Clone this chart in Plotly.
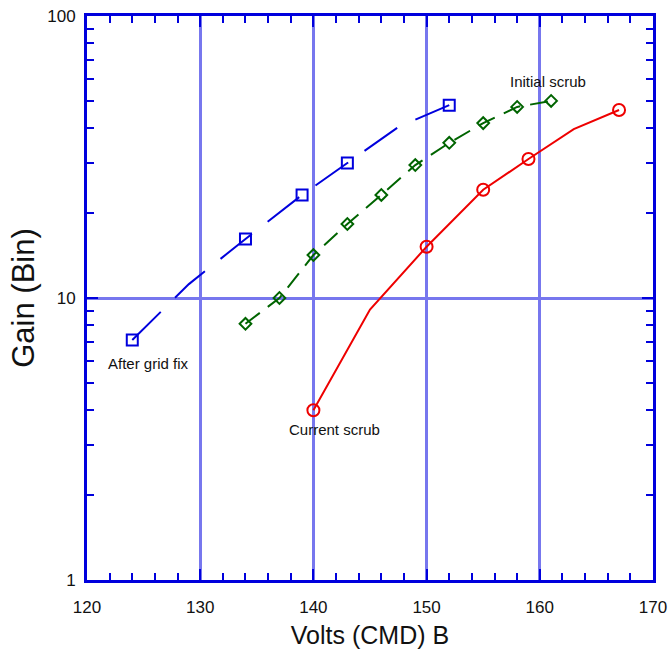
import plotly.graph_objects as go

# ---- data ----
after_x = [124, 134, 139, 143, 152]
after_y = [7.1, 16.2, 23.2, 30.1, 48.3]
after_line_x = [124, 129, 134, 139, 143, 147.5, 152]
after_line_y = [7.1, 11.2, 16.2, 23.2, 30.1, 40.4, 48.3]

initial_x = [134, 137, 140, 143, 146, 149, 152, 155, 158, 161]
initial_y = [8.1, 10.0, 14.2, 18.3, 23.2, 29.6, 35.5, 41.7, 47.6, 50.0]

current_x = [140, 150, 155, 159, 167]
current_y = [4.0, 15.2, 24.2, 31.1, 46.4]
current_line_x = [140, 145, 150, 155, 159, 163, 167]
current_line_y = [4.0, 9.1, 15.2, 24.2, 31.1, 39.7, 46.4]

x_ticks = [120, 130, 140, 150, 160, 170]
y_ticks = [1, 10, 100]

BLUE = "#0000DD"
GREEN = "#006400"
RED = "#EE0000"
GRID = "#7777EE"
FONT = "Liberation Sans, Arial, sans-serif"

fig = go.Figure()

fig.add_trace(go.Scatter(x=after_line_x, y=after_line_y, mode="lines",
                         line=dict(color=BLUE, width=2, dash="40px,20px"),
                         showlegend=False, hoverinfo="skip"))
fig.add_trace(go.Scatter(x=after_x, y=after_y, mode="markers",
                         marker=dict(symbol="square-open", size=11, color=BLUE,
                                     line=dict(width=2, color=BLUE)),
                         showlegend=False))

fig.add_trace(go.Scatter(x=initial_x, y=initial_y, mode="lines+markers",
                         line=dict(color=GREEN, width=2, dash="18px,10px"),
                         marker=dict(symbol="diamond-open", size=9, color=GREEN,
                                     line=dict(width=2, color=GREEN)),
                         showlegend=False))

fig.add_trace(go.Scatter(x=current_line_x, y=current_line_y, mode="lines",
                         line=dict(color=RED, width=2),
                         showlegend=False, hoverinfo="skip"))
fig.add_trace(go.Scatter(x=current_x, y=current_y, mode="markers",
                         marker=dict(symbol="circle-open", size=12, color=RED,
                                     line=dict(width=2, color=RED)),
                         showlegend=False))

ann_font = dict(family=FONT, size=15, color="#111111")
fig.add_annotation(x=160.7, y=1.766, text="Initial scrub", showarrow=False, font=ann_font,
                   xref="x", yref="y")
fig.add_annotation(x=125.4, y=0.766, text="After grid fix", showarrow=False, font=ann_font,
                   xref="x", yref="y")
fig.add_annotation(x=141.9, y=0.535, text="Current scrub", showarrow=False, font=ann_font,
                   xref="x", yref="y")

axis_common = dict(
    showline=True, linecolor=BLUE, linewidth=3, mirror="allticks",
    ticks="inside", tickcolor=BLUE, tickwidth=2, ticklen=11,
    showgrid=True, gridcolor=GRID, gridwidth=3, zeroline=False,
    automargin=False, ticklabeloverflow="allow",
    tickfont=dict(family=FONT, size=17, color="#111111"),
)

fig.update_layout(
    width=669, height=651,
    margin=dict(l=87, r=16, t=16, b=71),
    paper_bgcolor="white", plot_bgcolor="white",
    xaxis=dict(range=[120, 170], tickvals=x_ticks, ticktext=[str(v) for v in x_ticks],
               ticklabelstandoff=10,
               minor=dict(dtick=2, ticks="inside", ticklen=7, tickcolor=BLUE, tickwidth=2,
                          showgrid=False),
               title=dict(text="Volts (CMD) B", standoff=11,
                          font=dict(family=FONT, size=25, color="#111111")),
               **axis_common),
    yaxis=dict(type="log", range=[0, 2], tickvals=y_ticks, ticktext=[str(v) for v in y_ticks],
               ticklabelstandoff=5,
               minor=dict(dtick="D1", ticks="inside", ticklen=7, tickcolor=BLUE, tickwidth=2,
                          showgrid=False),
               title=dict(text="Gain (Bin)", standoff=4,
                          font=dict(family=FONT, size=31, color="#111111")),
               **axis_common),
)

fig.write_html("out.html", config={"displayModeBar": False},
               post_script="document.body.style.margin='0';")
